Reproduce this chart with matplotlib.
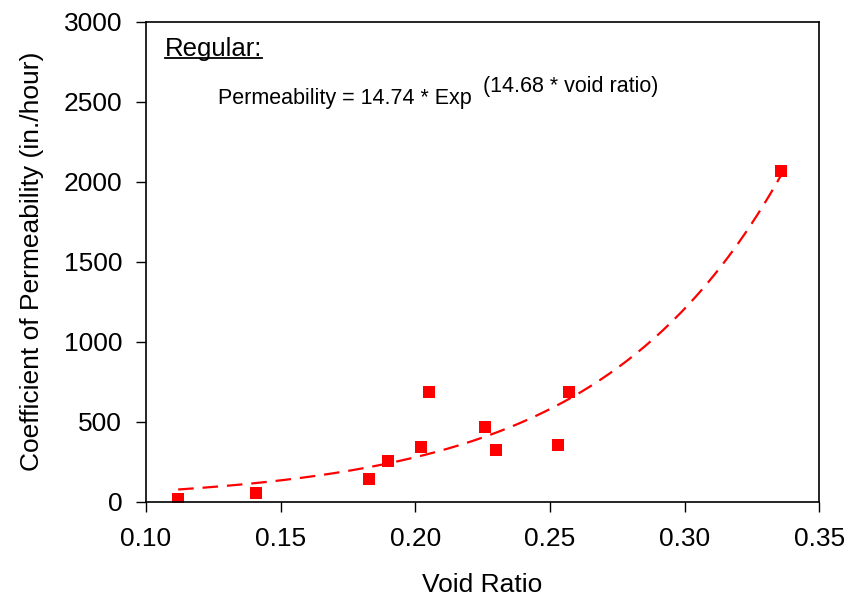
import numpy as np
import matplotlib
matplotlib.use('Agg')
import matplotlib.pyplot as plt

plt.rcParams['font.family'] = ['Liberation Sans', 'DejaVu Sans']

# 实测数据
void_ratio = [0.112, 0.141, 0.183, 0.190, 0.202, 0.205, 0.226, 0.230, 0.253, 0.257, 0.336]
permeability = [15, 56, 142, 254, 340, 684, 467, 323, 354, 684, 2069]

# 拟合参数: k = a * exp(b * e)
fit_a = 14.74
fit_b = 14.68

fig = plt.figure(figsize=(8.48, 6.03), dpi=100)
ax = fig.add_axes([0.172, 0.168, 0.794, 0.796])

e = np.linspace(min(void_ratio), max(void_ratio), 200)
ax.plot(e, fit_a * np.exp(fit_b * e), color='#ff0000', linestyle=(0, (7, 4)), linewidth=1.6)
ax.plot(void_ratio, permeability, linestyle='none', marker='s', markersize=8.5,
        color='#ff0000', markeredgewidth=0)

ax.set_xlim(0.10, 0.35)
ax.set_ylim(0, 3000)
xt = np.arange(0.10, 0.351, 0.05)
ax.set_xticks(xt)
ax.set_xticklabels([f'{v:.2f}' for v in xt])
ax.set_yticks(np.arange(0, 3001, 500))
ax.tick_params(direction='out', length=7, width=1, labelsize=19)
ax.tick_params(axis='x', pad=11)
ax.tick_params(axis='y', pad=10)
for s in ax.spines.values():
    s.set_linewidth(1.2)

ax.set_xlabel('Void Ratio', fontsize=19, labelpad=16)
ax.set_ylabel('Coefficient of Permeability (in./hour)', fontsize=19, labelpad=14)

t = ax.text(0.028, 0.929, 'Regular:', transform=ax.transAxes, fontsize=18.5,
            ha='left', va='baseline')
fig.canvas.draw()
bb = t.get_window_extent().transformed(ax.transAxes.inverted())
ax.plot([bb.x0, bb.x1], [0.9235, 0.9235], transform=ax.transAxes,
        color='black', linewidth=1.3)

ax.text(0.107, 0.8285, 'Permeability = 14.74 * Exp', transform=ax.transAxes,
        fontsize=15.5, ha='left', va='baseline')
ax.text(0.5, 0.853, '(14.68 * void ratio)', transform=ax.transAxes,
        fontsize=15.5, ha='left', va='baseline')

fig.savefig('out.png', dpi=100)
